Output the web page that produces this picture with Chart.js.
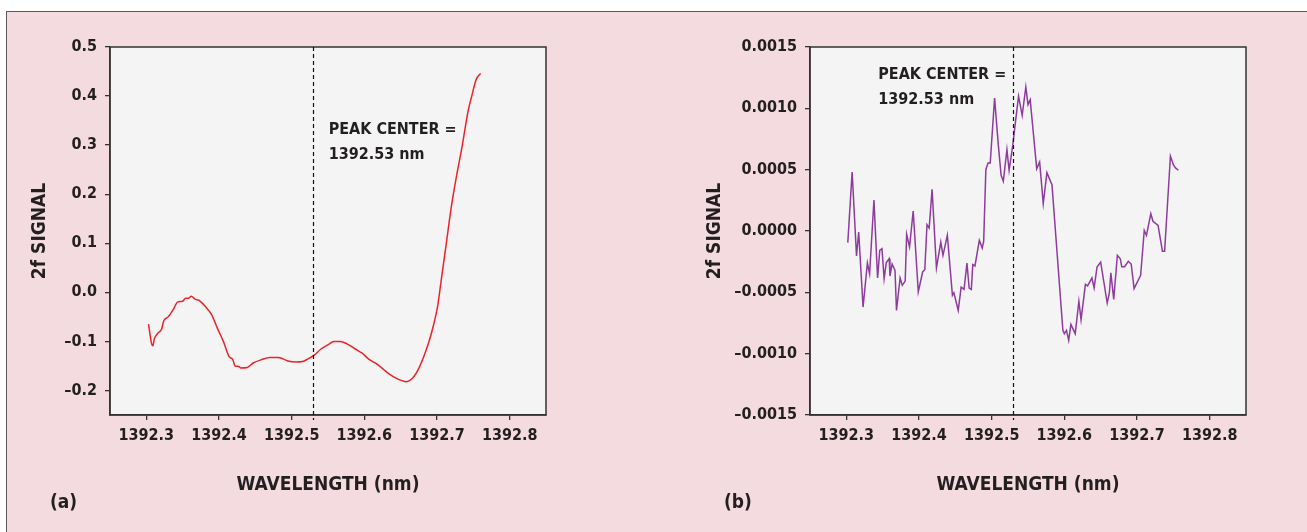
<!DOCTYPE html>
<html>
<head>
<meta charset="utf-8">
<script src="https://cdn.jsdelivr.net/npm/chart.js@4.4.1/dist/chart.umd.min.js"></script>
<style>
  html, body { margin: 0; padding: 0; background: #fff; }
  body { width: 1307px; height: 532px; position: relative; overflow: hidden; }
  .frame {
    position: absolute; left: 6px; top: 11px; width: 1320px; height: 540px;
    background: #f3dbe0; border: 1px solid #5a5a5a;
  }
  .panel { position: absolute; top: 0; }
  #chart-a-wrap { left: 0; width: 660px; height: 532px; }
  #chart-b-wrap { left: 660px; width: 647px; height: 532px; }
</style>
</head>
<body>
<div class="frame"></div>
<div class="panel" id="chart-a-wrap"><canvas id="chart-a"></canvas></div>
<div class="panel" id="chart-b-wrap"><canvas id="chart-b"></canvas></div>
<script>
// DATA

// panel (a) - red trace
const wavelengthA = [
  1392.303, 1392.307, 1392.309, 1392.311, 1392.316, 1392.321, 1392.324, 1392.330,
  1392.337, 1392.343, 1392.350, 1392.354, 1392.358, 1392.362, 1392.367, 1392.372,
  1392.380, 1392.390, 1392.398, 1392.406, 1392.414, 1392.419, 1392.422, 1392.427,
  1392.430, 1392.439, 1392.447, 1392.459, 1392.470, 1392.482, 1392.495, 1392.506,
  1392.515, 1392.522, 1392.531, 1392.540, 1392.551, 1392.558, 1392.567, 1392.576,
  1392.588, 1392.597, 1392.606, 1392.615, 1392.624, 1392.633, 1392.645, 1392.652,
  1392.657, 1392.667, 1392.675, 1392.688, 1392.695, 1392.701, 1392.706, 1392.713,
  1392.720, 1392.727, 1392.734, 1392.743, 1392.748, 1392.754, 1392.760,
];
const signalA = [
  -0.065, -0.103, -0.109, -0.095, -0.083, -0.075, -0.058, -0.050,
  -0.035, -0.020, -0.018, -0.012, -0.012, -0.008, -0.014, -0.016,
  -0.027, -0.046, -0.074, -0.100, -0.131, -0.137, -0.150, -0.151,
  -0.154, -0.153, -0.144, -0.137, -0.133, -0.133, -0.140, -0.142,
  -0.141, -0.136, -0.128, -0.116, -0.106, -0.100, -0.100, -0.105,
  -0.116, -0.124, -0.136, -0.144, -0.154, -0.165, -0.176, -0.180,
  -0.182, -0.174, -0.155, -0.105, -0.068, -0.027, 0.027, 0.102,
  0.177, 0.238, 0.293, 0.371, 0.401, 0.434, 0.446,
];

// panel (b) - purple trace
const wavelengthB = [
  1392.302, 1392.308, 1392.314, 1392.317, 1392.323, 1392.329, 1392.332, 1392.338,
  1392.343, 1392.346, 1392.349, 1392.352, 1392.355, 1392.359, 1392.360, 1392.363,
  1392.367, 1392.369, 1392.374, 1392.377, 1392.381, 1392.383, 1392.387, 1392.392,
  1392.399, 1392.405, 1392.408, 1392.411, 1392.414, 1392.418, 1392.424, 1392.430,
  1392.433, 1392.439, 1392.446, 1392.448, 1392.454, 1392.458, 1392.462, 1392.466,
  1392.469, 1392.472, 1392.474, 1392.477, 1392.483, 1392.487, 1392.489, 1392.492,
  1392.495, 1392.498, 1392.504, 1392.509, 1392.513, 1392.516, 1392.521, 1392.524,
  1392.529, 1392.533, 1392.537, 1392.542, 1392.547, 1392.550, 1392.553, 1392.562,
  1392.566, 1392.571, 1392.576, 1392.583, 1392.598, 1392.600, 1392.603, 1392.606,
  1392.609, 1392.615, 1392.620, 1392.623, 1392.629, 1392.632, 1392.638, 1392.641,
  1392.645, 1392.650, 1392.659, 1392.662, 1392.664, 1392.668, 1392.673, 1392.677,
  1392.679, 1392.683, 1392.688, 1392.692, 1392.696, 1392.705, 1392.710, 1392.713,
  1392.719, 1392.722, 1392.729, 1392.735, 1392.738, 1392.746, 1392.750, 1392.753,
  1392.757,
];
const signalB = [
  -0.000095, 0.000481, -0.000204, -0.000008, -0.000620, -0.000261, -0.000348, 0.000253,
  -0.000383, -0.000158, -0.000144, -0.000389, -0.000258, -0.000226, -0.000367, -0.000269,
  -0.000321, -0.000647, -0.000383, -0.000443, -0.000408, -0.000027, -0.000130, 0.000163,
  -0.000497, -0.000334, -0.000315, 0.000052, 0.000024, 0.000340, -0.000302, -0.000090,
  -0.000198, -0.000035, -0.000524, -0.000503, -0.000647, -0.000457, -0.000476, -0.000261,
  -0.000465, -0.000476, -0.000274, -0.000285, -0.000076, -0.000139, -0.000084, 0.000500,
  0.000554, 0.000554, 0.001084, 0.000712, 0.000454, 0.000405, 0.000663, 0.000495,
  0.000698, 0.000902, 0.001100, 0.000943, 0.001174, 0.001030, 0.001070, 0.000508,
  0.000563, 0.000223, 0.000476, 0.000378, -0.000810, -0.000837, -0.000810, -0.000891,
  -0.000761, -0.000837, -0.000573, -0.000723, -0.000435, -0.000448, -0.000383, -0.000465,
  -0.000293, -0.000253, -0.000587, -0.000503, -0.000340, -0.000557, -0.000198, -0.000226,
  -0.000291, -0.000291, -0.000247, -0.000269, -0.000470, -0.000361, 0.000005, -0.000035,
  0.000141, 0.000079, 0.000046, -0.000166, -0.000166, 0.000611, 0.000541, 0.000514,
  0.000495,
];

// tick labels
const xTicks = [1392.3, 1392.4, 1392.5, 1392.6, 1392.7, 1392.8];
const yTicksA = [-0.2, -0.1, 0.0, 0.1, 0.2, 0.3, 0.4, 0.5];
const yTicksB = [-0.0015, -0.001, -0.0005, 0, 0.0005, 0.001, 0.0015];

const peakCenter = 1392.53;
const peakText = ['PEAK CENTER =', '1392.53 nm'];

// STYLE

const FONT = "'DejaVu Sans Condensed', 'Liberation Sans Narrow', sans-serif";
const INK = '#231f20';

// minus signs in the original are en dashes
const dash = (s) => s.replace('-', '\u2013');

// background, frame box, dashed peak line, annotation text, panel letter
const panelDecor = {
  id: 'panelDecor',
  beforeDraw(chart) {
    const { ctx, chartArea: a } = chart;
    ctx.save();
    ctx.fillStyle = '#f4f4f4';
    ctx.fillRect(a.left, a.top, a.right - a.left, a.bottom - a.top);
    ctx.restore();
  },
  afterDatasetsDraw(chart, args, opts) {
    const { ctx, chartArea: a, scales } = chart;
    ctx.save();

    // box
    ctx.strokeStyle = '#333';
    ctx.lineWidth = 1.5;
    ctx.strokeRect(a.left, a.top, a.right - a.left, a.bottom - a.top);

    // peak line
    const px = Math.round(scales.x.getPixelForValue(peakCenter)) + 0.5;
    ctx.strokeStyle = '#111';
    ctx.lineWidth = 1.2;
    ctx.setLineDash([4, 3]);
    ctx.beginPath();
    ctx.moveTo(px, a.top);
    ctx.lineTo(px, a.bottom + 5);
    ctx.stroke();
    ctx.setLineDash([]);

    // annotation
    ctx.fillStyle = INK;
    ctx.font = 'bold 16px ' + FONT;
    ctx.textAlign = 'left';
    ctx.textBaseline = 'top';
    const tx = scales.x.getPixelForValue(opts.textAt[0]);
    const ty = scales.y.getPixelForValue(opts.textAt[1]);
    peakText.forEach((line, i) => ctx.fillText(line, tx, ty + i * 25));

    // (a) / (b)
    ctx.font = 'bold 19px ' + FONT;
    ctx.fillText(opts.letter, opts.letterPos[0], opts.letterPos[1]);
    ctx.restore();
  },
};

const makeOptions = (yTicks, yDigits, yWidth, yTitlePad, padRight, textAt, letter, letterPos) => ({
  responsive: false,
  animation: false,
  layout: { padding: { top: 47, right: padRight, left: 0, bottom: 0 } },
  plugins: {
    legend: { display: false },
    tooltip: { enabled: false },
    panelDecor: { textAt, letter, letterPos },
  },
  scales: {
    x: {
      type: 'linear',
      min: 1392.25,
      max: 1392.85,
      afterBuildTicks: (s) => { s.ticks = xTicks.map((v) => ({ value: v })); },
      afterFit: (s) => { s.height = 117; },
      ticks: {
        color: INK,
        padding: 6,
        maxRotation: 0,
        font: { family: FONT, size: 16, weight: 'bold' },
        callback: (v) => v.toFixed(1),
      },
      grid: { drawOnChartArea: false, tickLength: 5, color: '#333', lineWidth: 1.3 },
      border: { color: '#333', width: 1.5 },
      title: {
        display: true,
        text: 'WAVELENGTH (nm)',
        color: INK,
        font: { family: FONT, size: 19, weight: 'bold' },
        padding: { top: 0, bottom: 36 },
      },
    },
    y: {
      type: 'linear',
      min: yTicks[0] - (yTicks[1] - yTicks[0]) * (yDigits === 1 ? 0.5 : 0),
      max: yTicks[yTicks.length - 1],
      afterBuildTicks: (s) => { s.ticks = yTicks.map((v) => ({ value: v })); },
      afterFit: (s) => { s.width = yWidth; },
      ticks: {
        color: INK,
        padding: 8,
        font: { family: FONT, size: 16, weight: 'bold' },
        callback: (v) => dash(v.toFixed(yDigits)),
      },
      grid: { drawOnChartArea: false, tickLength: 5, color: '#333', lineWidth: 1.3 },
      border: { color: '#333', width: 1.5 },
      title: {
        display: true,
        text: '2f SIGNAL',
        color: INK,
        font: { family: FONT, size: 19, weight: 'bold' },
        padding: { top: yTitlePad, bottom: 0 },
      },
    },
  },
});

// PANEL (a)

const chartA = document.getElementById('chart-a');
chartA.width = 660;
chartA.height = 532;

new Chart(chartA, {
  type: 'line',
  data: {
    datasets: [
      {
        data: wavelengthA.map((x, i) => ({ x, y: signalA[i] })),
        borderColor: '#ec2229',
        borderWidth: 1.5,
        pointRadius: 0,
        cubicInterpolationMode: 'monotone',
        fill: false,
      },
    ],
  },
  options: makeOptions(yTicksA, 1, 110, 29, 114, [1392.551, 0.347], '(a)', [50, 494]),
  plugins: [panelDecor],
});

// PANEL (b)

const chartB = document.getElementById('chart-b');
chartB.width = 647;
chartB.height = 532;

new Chart(chartB, {
  type: 'line',
  data: {
    datasets: [
      {
        data: wavelengthB.map((x, i) => ({ x, y: signalB[i] })),
        borderColor: '#8e3b9d',
        borderWidth: 1.5,
        pointRadius: 0,
        tension: 0,
        fill: false,
      },
    ],
  },
  options: makeOptions(yTicksB, 4, 150, 44, 61, [1392.344, 0.00134], '(b)', [64, 494]),
  plugins: [panelDecor],
});
</script>
</body>
</html>
